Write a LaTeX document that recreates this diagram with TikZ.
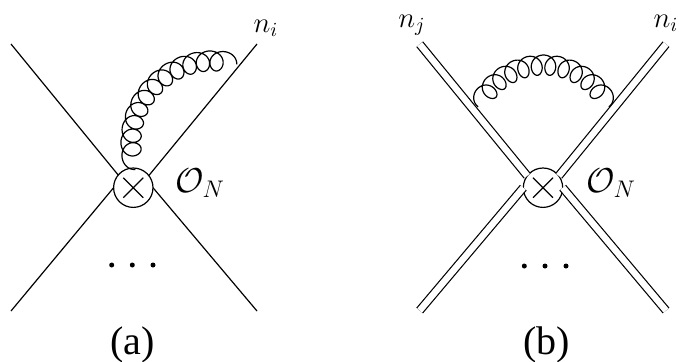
\documentclass[tikz,border=0pt]{standalone}
\usepackage{fontspec}
\usepackage{tikz}
\usetikzlibrary{shapes.misc}
\newfontfamily\capfont{Liberation Serif}
\tikzset{
  vertex/.style={draw,circle,minimum size=19.7pt,inner sep=0pt,outer sep=0pt},
  xmark/.style={draw,cross out,minimum size=10pt,inner sep=0pt,outer sep=0pt},
  eikonal/.style={double,double distance=3.2pt},
  gluon/.style={smooth,samples=520,variable=\p},
  caption/.style={font=\capfont\fontsize{20}{20}\selectfont,inner sep=0pt,anchor=base},
  lab/.style={font=\Large,inner sep=0pt,anchor=base},
  oplab/.style={font=\LARGE,inner sep=0pt,anchor=base}
}
\begin{document}
\begin{tikzpicture}[x=0.5pt,y=-0.5pt,line width=0.6pt]
  \useasboundingbox (0,0) rectangle (679,361);
  % left diagram
  \node[vertex] (vtxa) at (133.3,187.7) {};
  \node[xmark] (xa) at (vtxa) {};
  \coordinate (atl) at (11,44);
  \coordinate (atr) at (257,44);
  \coordinate (abl) at (11,311);
  \coordinate (abr) at (257,311);
  \draw (atl) -- (vtxa.140);
  \draw (atr) -- (vtxa.38);
  \draw (abl) -- (vtxa.180);
  \draw (abr) -- (vtxa.0);
  \draw plot[gluon,domain=-90:4050]
    ({212.9+(82+10*cos(\p))*sin(-46+(\p-1980)*0.027+7*sin(\p))},
     {142.9-(82+10*cos(\p))*cos(-46+(\p-1980)*0.027+7*sin(\p))});
  \node[lab] (nia) at (266,32) {$n_i$};
  \node[oplab] (ona) at (200,192) {$\mathcal{O}_N$};
  \foreach \x in {111.7,132.3,153} {
    \fill (\x,265) circle (2.5);
  }
  \node[caption] (capa) at (132.7,354) {(a)};
  % right diagram
  \node[vertex] (vtxb) at (543,187.7) {};
  \node[xmark] (xb) at (vtxb) {};
  \coordinate (btl) at (419.7,44.2);
  \coordinate (btr) at (666,44.2);
  \coordinate (bbl) at (419.7,310.5);
  \coordinate (bbr) at (666,310.5);
  \draw[eikonal] (btl) -- (vtxb.143);
  \draw[eikonal] (btr) -- (vtxb.37);
  \draw[eikonal] (bbl) -- (vtxb.180);
  \draw[eikonal] (bbr) -- (vtxb.0);
  \draw plot[gluon,domain=-90:3690]
    ({543.5+(72+10*cos(\p))*sin((\p-1800)*0.0308+7*sin(\p))},
     {137-(72+10*cos(\p))*cos((\p-1800)*0.0308+7*sin(\p))});
  \node[lab] (nj) at (412,27) {$n_j$};
  \node[lab] (nib) at (666,27) {$n_i$};
  \node[oplab] (onb) at (611,192) {$\mathcal{O}_N$};
  \foreach \x in {524.3,545,566} {
    \fill (\x,266) circle (2.5);
  }
  \node[caption] (capb) at (546.7,354) {(b)};
\end{tikzpicture}
\end{document}
